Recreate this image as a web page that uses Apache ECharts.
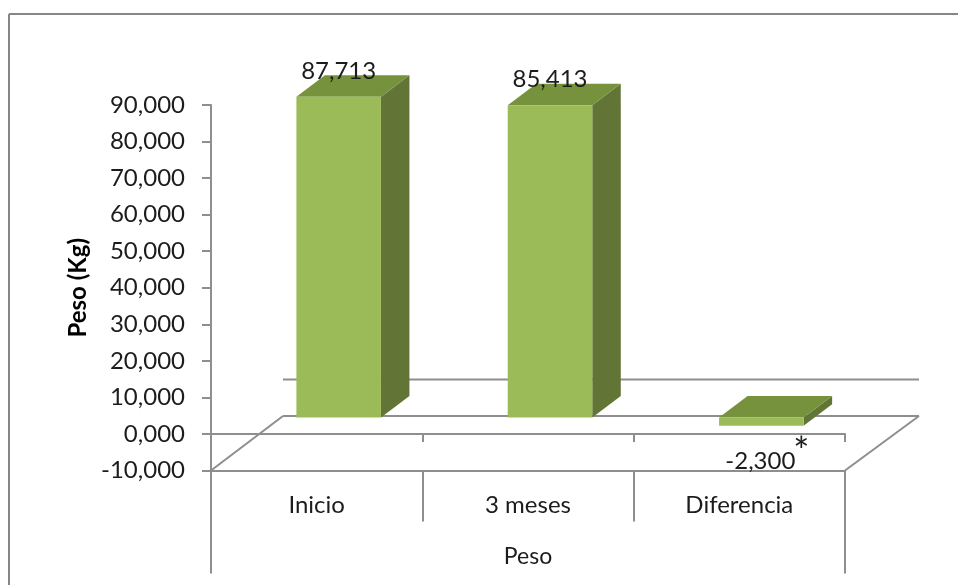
<!DOCTYPE html>
<html>
<head>
<meta charset="utf-8">
<style>
  html, body { margin: 0; padding: 0; background: #fff; }
  #chart { width: 958px; height: 585px; }
</style>
<script src="https://cdn.jsdelivr.net/npm/echarts@6/dist/echarts.min.js"></script>
</head>
<body>
<div id="chart"></div>
<script>
// Peso corporal: inicio, a los 3 meses y diferencia
const categories = ['Inicio', '3 meses', 'Diferencia'];
const pesoKg = [87.713, 85.413, -2.3];
const significance = ['', '', '*'];
const yMin = -10;
const yMax = 90;
const yStep = 10;
const yTitle = 'Peso (Kg)';
const xTitle = 'Peso';

const FONT = 'Lato, Carlito, "Open Sans", sans-serif';
const TEXT = '#1c1c1c';
const LINE = '#8e8e8e';
const FRONT = '#9bbb59';
const TOP = '#76923c';
const SIDE = '#627536';

// Oblique projection: the floor recedes by this much, bars stand mid-way in it
const FLOOR_DX = 72, FLOOR_DY = -54.5;
const BAR_SHIFT_X = 22, BAR_SHIFT_Y = -16.5;
const BAR_DX = 28.5, BAR_DY = -21.5;
const BAR_WIDTH_RATIO = 0.4;

const fmt = v => v.toFixed(3).replace('.', ',');
const seg = (x1, y1, x2, y2) => ({
  type: 'line',
  shape: { x1, y1, x2, y2 },
  style: { stroke: LINE, lineWidth: 2, fill: null }
});
const poly = (points, fill) => ({
  type: 'polygon',
  shape: { points },
  style: { fill, stroke: null }
});
const label = (text, x, y, size) => ({
  type: 'text',
  z2: 50,
  style: { text, x, y, fill: TEXT, font: size + 'px ' + FONT, textAlign: 'center', textVerticalAlign: 'middle' }
});

// Floor, back line of the zero plane and the outer category separators
function renderFloor(params, api) {
  const left = api.coord([-0.5, yMin]);
  const zero = api.coord([0, 0])[1];
  const lx = params.coordSys.x, rx = lx + params.coordSys.width;
  const by = left[1];
  return {
    type: 'group',
    children: [
      seg(lx, by, lx + FLOOR_DX, by + FLOOR_DY),
      seg(lx + FLOOR_DX, by + FLOOR_DY, rx + FLOOR_DX + 2, by + FLOOR_DY),
      seg(rx + FLOOR_DX + 2, by + FLOOR_DY, rx, by),
      seg(lx + FLOOR_DX, zero + FLOOR_DY, rx + FLOOR_DX + 2, zero + FLOOR_DY),
      seg(lx, by, lx, by + 103),
      seg(rx, by, rx, by + 103)
    ]
  };
}

// One oblique bar plus its value label
function renderBar(params, api) {
  const i = api.value(0), v = api.value(1);
  const base = api.coord([i, 0]);
  const end = api.coord([i, v]);
  const w = api.size([1, 0])[0] * BAR_WIDTH_RATIO;
  const x0 = base[0] + BAR_SHIFT_X - w / 2, x1 = x0 + w;
  const yUp = Math.min(base[1], end[1]) + BAR_SHIFT_Y;
  const yDown = Math.max(base[1], end[1]) + BAR_SHIFT_Y;
  const cx = (x0 + x1) / 2;
  const children = [
    poly([[x1, yUp], [x1 + BAR_DX, yUp + BAR_DY], [x1 + BAR_DX, yDown + BAR_DY], [x1, yDown]], SIDE),
    poly([[x0, yUp], [x0 + BAR_DX, yUp + BAR_DY], [x1 + BAR_DX, yUp + BAR_DY], [x1, yUp]], TOP),
    poly([[x0, yUp], [x1, yUp], [x1, yDown], [x0, yDown]], FRONT)
  ];
  if (v >= 0) {
    children.push(label(fmt(v), cx, yUp - 26, 24));
  } else {
    children.push(label(fmt(v), cx - 1, yDown + 35, 24));
  }
  const mark = significance[i];
  if (mark) children.push(label(mark, cx + 40, yDown + 27, 38));
  return { type: 'group', children };
}

const chart = echarts.init(document.getElementById('chart'), null, { renderer: 'canvas' });
chart.setOption({
  animation: false,
  backgroundColor: '#ffffff',
  grid: { left: 211, top: 105, width: 634, height: 365.5, containLabel: false },
  xAxis: [
    {
      type: 'category',
      data: categories,
      axisLine: { onZero: true, lineStyle: { color: LINE, width: 2 } },
      axisTick: { show: true, length: 8, lineStyle: { color: LINE, width: 2 } },
      axisLabel: { show: false },
      splitLine: { show: false }
    },
    {
      type: 'category',
      data: categories,
      position: 'bottom',
      name: xTitle,
      nameLocation: 'middle',
      nameGap: 75,
      nameTextStyle: { fontFamily: FONT, fontSize: 23, color: TEXT },
      axisLine: { onZero: false, lineStyle: { color: LINE, width: 2 } },
      axisTick: { show: true, length: 51, lineStyle: { color: LINE, width: 2 } },
      axisLabel: { show: true, margin: 23, fontFamily: FONT, fontSize: 24, color: TEXT },
      splitLine: { show: false }
    }
  ],
  yAxis: {
    type: 'value',
    min: yMin,
    max: yMax,
    interval: yStep,
    name: yTitle,
    nameLocation: 'middle',
    nameGap: 118,
    nameRotate: 90,
    nameTextStyle: { fontFamily: FONT, fontSize: 24, fontWeight: 'bold', color: '#000' },
    axisLine: { show: true, onZero: false, lineStyle: { color: LINE, width: 2 } },
    axisTick: { show: true, length: 9, lineStyle: { color: LINE, width: 2 } },
    axisLabel: { margin: 26, fontFamily: FONT, fontSize: 24, color: TEXT, formatter: v => fmt(v) },
    splitLine: { show: false }
  },
  series: [
    {
      type: 'custom',
      name: 'Plano',
      xAxisIndex: 0,
      clip: false,
      silent: true,
      z: 1,
      renderItem: renderFloor,
      data: [[0, 0]]
    },
    {
      type: 'custom',
      name: 'Peso',
      xAxisIndex: 0,
      clip: false,
      silent: true,
      z: 5,
      renderItem: renderBar,
      encode: { x: 0, y: 1 },
      data: pesoKg.map((v, i) => [i, v])
    }
  ],
  graphic: [
    { type: 'line', shape: { x1: 9, y1: 14, x2: 958, y2: 14 }, style: { stroke: '#868686', lineWidth: 2 } },
    { type: 'line', shape: { x1: 9, y1: 14, x2: 9, y2: 585 }, style: { stroke: '#868686', lineWidth: 2 } }
  ]
});
</script>
</body>
</html>
